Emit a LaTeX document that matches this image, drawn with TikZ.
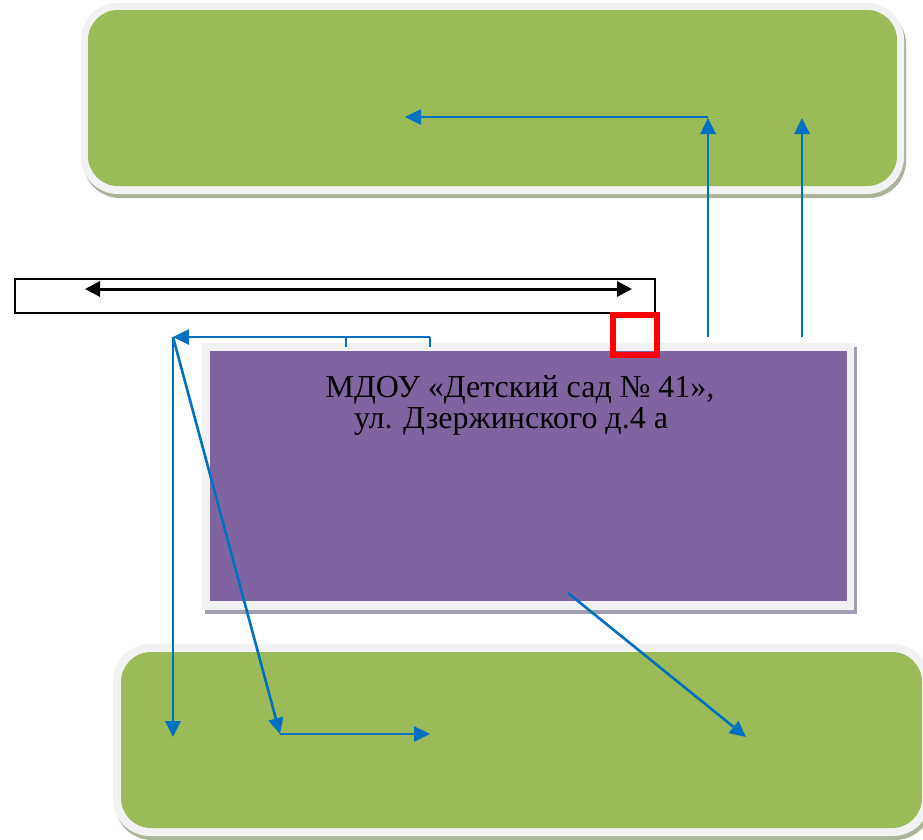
\documentclass[tikz,border=0pt]{standalone}
\usepackage{fontspec}
\setmainfont{Liberation Serif}
\usetikzlibrary{arrows.meta}
\definecolor{grn}{HTML}{9BBB59}
\definecolor{grnshadow}{HTML}{A9B499}
\definecolor{rim}{HTML}{F2F2F2}
\definecolor{purp}{HTML}{8064A2}
\definecolor{purpshadow}{HTML}{A39BB0}
\definecolor{blu}{HTML}{0070C0}
\definecolor{redsq}{HTML}{FF0000}
\tikzset{
  bluarrow/.style={draw=blu, line width=2.6pt, -{Triangle[length=16pt,width=15pt]}},
  bluline/.style={draw=blu, line width=2.2pt},
  blkarrow/.style={draw=black, line width=3pt, {Triangle[length=15pt,width=15pt]}-{Triangle[length=15pt,width=15pt]}},
  greenbox/.style={fill=grn, rounded corners=30pt},
  greenrim/.style={fill=rim, rounded corners=37pt},
  greenshadow/.style={fill=grnshadow, rounded corners=37pt},
  lbl/.style={font=\fontsize{32}{36}\selectfont, text=black, inner sep=0pt}
}
\begin{document}
\begin{tikzpicture}[x=1pt,y=-1pt]
\useasboundingbox (0,0) rectangle (923,839);
\fill[white] (0,0) rectangle (923,839);
% top green box
\fill[greenshadow] (83,7) rectangle (906,198);
\fill[greenrim] (81,3) rectangle (904,194);
\fill[greenbox] (88,10) rectangle (897,186);
\node[inner sep=0pt, minimum width=809pt, minimum height=176pt, anchor=north west] (top) at (88,10) {};
% bottom green box
\fill[greenshadow] (115,648) rectangle (932,840);
\fill[greenrim] (113,644) rectangle (930,836);
\fill[greenbox] (121,652) rectangle (922,828);
\node[inner sep=0pt, minimum width=801pt, minimum height=176pt, anchor=north west] (bottom) at (121,652) {};
% purple box
\fill[purpshadow] (205,347) rectangle (857,614);
\fill[rim] (202,343) rectangle (854,610);
\fill[purp] (210,351) rectangle (847,601);
\node[inner sep=0pt, minimum width=637pt, minimum height=250pt, anchor=north west] (main) at (210,351) {};
\node[lbl, anchor=base] (t1) at (520,397) {МДОУ «Детский сад № 41»,};
\node[lbl, anchor=base] (t2) at (511,428) {ул. Дзержинского д.4 а};
% black bar
\node[draw=black, line width=1.5pt, inner sep=0pt, minimum width=640pt, minimum height=34pt, anchor=north west] (bar) at (14,278) {};
\coordinate (bl) at (85,289);
\coordinate (br) at (632,289);
\draw[blkarrow] (bl) -- (br);
% red square
\node[draw=redsq, line width=6pt, inner sep=0pt, minimum width=44pt, minimum height=40pt, anchor=north west] (red) at (610,312) {};
% blue arrows up
\coordinate (u1s) at (708,337);
\coordinate (u1e) at (708,118);
\coordinate (u1c) at (708,117);
\coordinate (u1l) at (405,117);
\coordinate (u2s) at (802,337);
\coordinate (u2e) at (802,118);
\draw[bluarrow] (u1s) -- (u1e);
\draw[bluarrow] (u1c) -- (u1l);
\draw[bluarrow] (u2s) -- (u2e);
% bracket
\coordinate (br1) at (430,347);
\coordinate (br2) at (430,337);
\coordinate (br3) at (346,347);
\coordinate (br4) at (346,337);
\coordinate (hub) at (173,337);
\draw[bluline] (br1) -- (br2);
\draw[bluline] (br3) -- (br4);
\draw[bluarrow] (br2) -- (hub);
% arrows down
\coordinate (d1) at (173,737);
\coordinate (d2) at (280,734);
\coordinate (d3) at (430,734);
\draw[bluarrow] (hub) -- (d1);
\draw[bluarrow] (hub) -- (d2);
\draw[bluarrow] (d2) -- (d3);
\coordinate (ds) at (568,593);
\coordinate (de) at (746,737);
\draw[bluarrow] (ds) -- (de);
\end{tikzpicture}
\end{document}
